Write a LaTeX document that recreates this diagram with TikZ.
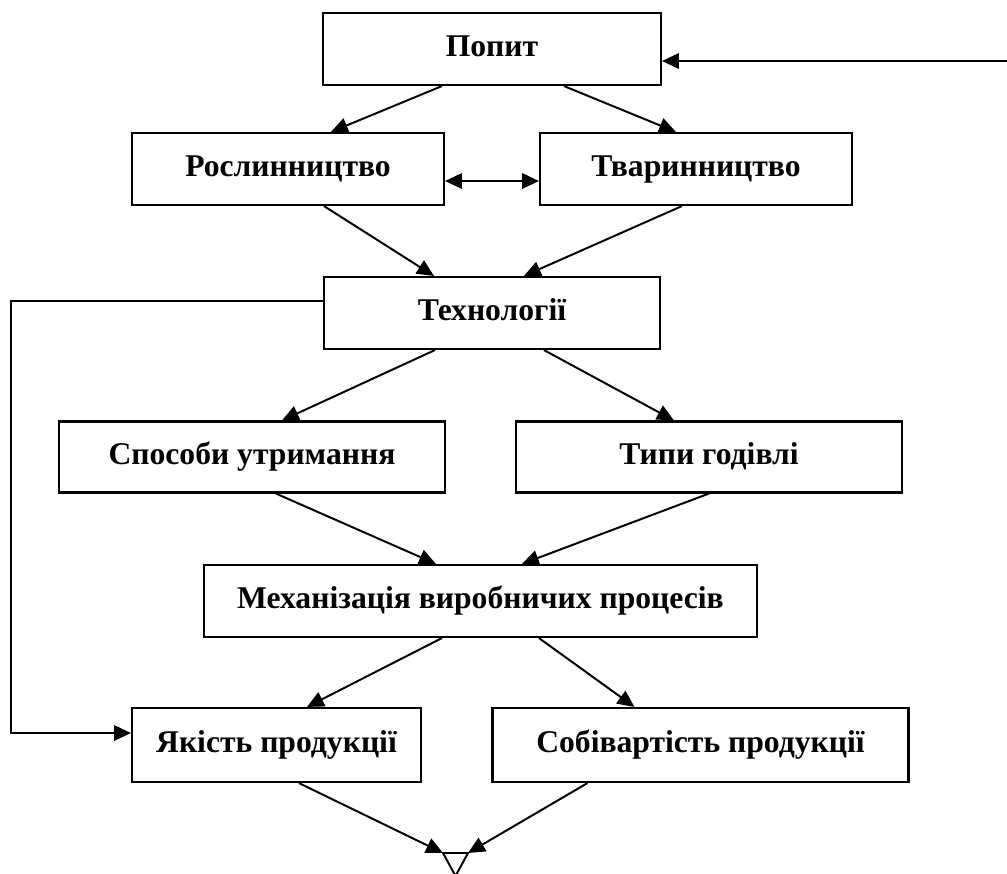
\documentclass[tikz,border=0pt]{standalone}
\usepackage{fontspec}
\setmainfont{Liberation Serif}
\usepackage{tikz}
\usetikzlibrary{arrows.meta}
\tikzstyle{block} = [rectangle, minimum height=1.8cm, text centered, draw=black, line width=1.5pt, inner sep=0pt, font=\fontsize{22.5}{27}\selectfont\bfseries, text height=16pt, text depth=5pt]
\tikzstyle{arrow} = [-{Triangle[length=12pt,width=11pt]}, line width=1.4pt]
\tikzstyle{biarrow} = [{Triangle[length=12pt,width=11pt]}-{Triangle[length=12pt,width=11pt]}, line width=1.4pt]
\tikzstyle{line} = [line width=1.4pt]

\begin{document}
\begin{tikzpicture}[node distance=3.6cm]
	\useasboundingbox (0,0) rectangle (25.175,-21.825);
	\node (popyt) [block, minimum width=8.45cm] at (12.3,-1.225) {Попит};
	\node (roslyn) [block, minimum width=7.8cm, below of=popyt, xshift=-5.1cm, yshift=0.6cm] {Рослинництво};
	\node (tvaryn) [block, minimum width=7.8cm, below of=popyt, xshift=5.1cm, yshift=0.6cm] {Тваринництво};
	\node (tekhn) [block, minimum width=8.4cm, below of=roslyn, xshift=5.1cm] {Технології};
	\node (sposoby) [block, minimum width=9.65cm, minimum height=1.775cm, below of=tekhn, xshift=-6cm] {Способи утримання};
	\node (typy) [block, minimum width=9.65cm, minimum height=1.775cm, below of=tekhn, xshift=5.425cm] {Типи годівлі};
	\node (mekhan) [block, minimum width=13.825cm, below of=sposoby, xshift=5.7125cm] {Механізація виробничих процесів};
	\node (yakist) [block, minimum width=7.225cm, minimum height=1.85cm, below of=mekhan, xshift=-5.1cm] {Якість продукції};
	\node (sobiv) [block, minimum width=10.4cm, minimum height=1.85cm, below of=mekhan, xshift=5.5cm] {Собівартість продукції};
	\coordinate (input) at (25.175,-1.525);
	\coordinate (mergeL) at (11.075,-21.325);
	\coordinate (mergeR) at (11.7,-21.325);
	\coordinate (mergeB) at (11.3875,-21.9);
	
	\draw [arrow](input) -- ([yshift=-0.3cm]popyt.east);
	\draw [arrow]([xshift=3cm]popyt.south west) -- ([xshift=5cm]roslyn.north west);
	\draw [arrow]([xshift=6.05cm]popyt.south west) -- ([xshift=3.425cm]tvaryn.north west);
	\draw [biarrow]([yshift=-0.3cm]roslyn.east) -- ([yshift=-0.3cm]tvaryn.west);
	\draw [arrow]([xshift=4.825cm]roslyn.south west) -- ([xshift=2.775cm]tekhn.north west);
	\draw [arrow]([xshift=3.575cm]tvaryn.south west) -- ([xshift=5.025cm]tekhn.north west);
	\draw [arrow]([xshift=2.8cm]tekhn.south west) -- ([xshift=5.6cm]sposoby.north west);
	\draw [arrow]([xshift=5.525cm]tekhn.south west) -- ([xshift=3.975cm]typy.north west);
	\draw [arrow]([xshift=5.45cm]sposoby.south west) -- ([xshift=5.825cm]mekhan.north west);
	\draw [arrow]([xshift=4.85cm]typy.south west) -- ([xshift=7.975cm]mekhan.north west);
	\draw [arrow]([xshift=5.975cm]mekhan.south west) -- ([xshift=4.4cm]yakist.north west);
	\draw [arrow]([xshift=8.4cm]mekhan.south west) -- ([xshift=3.575cm]sobiv.north west);
	\draw [arrow]([yshift=0.3cm]tekhn.west) -- ++(-7.8cm,0) |- ([yshift=0.3cm]yakist.west);
	\draw [arrow]([xshift=4.2cm]yakist.south west) -- (mergeL);
	\draw [arrow]([xshift=2.4cm]sobiv.south west) -- (mergeR);
	\draw [line](mergeL) -- (mergeR) -- (mergeB) -- cycle;
\end{tikzpicture}
\end{document}
